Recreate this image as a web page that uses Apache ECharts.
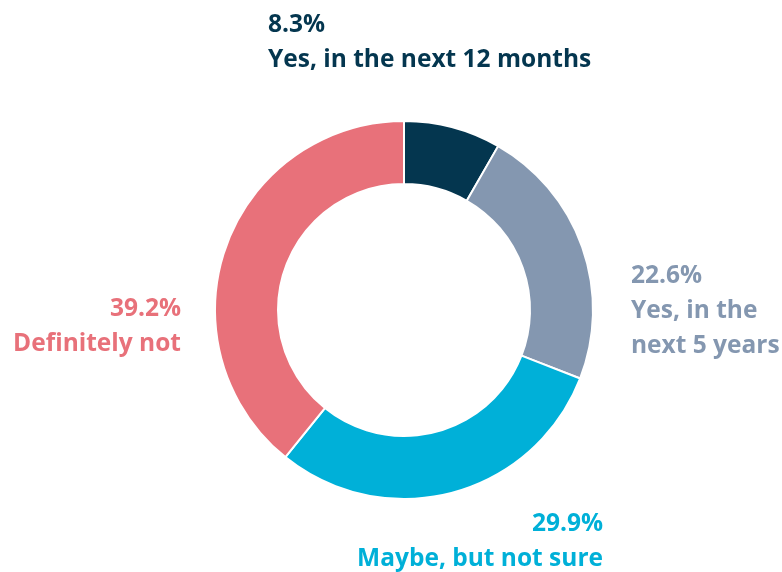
<!DOCTYPE html>
<html>
<head>
    <meta charset="utf-8">
    <title>Donut</title>
    <script src="https://cdn.jsdelivr.net/npm/echarts@6/dist/echarts.min.js"></script>
</head>
<body style="margin:0;background:#fff;">
<div id="main" style="width:782px;height:572px;"></div>
<script type="text/javascript">
    // answers, clockwise from 12 o'clock
    var categories = ['Yes, in the next 12 months', 'Yes, in the next 5 years', 'Maybe, but not sure', 'Definitely not'];
    var labelText = ['Yes, in the next 12 months', 'Yes, in the\nnext 5 years', 'Maybe, but not sure', 'Definitely not'];
    var values = [8.3, 22.6, 29.9, 39.2];
    var colors = ['#04364f', '#8497b0', '#00b0d8', '#e8717a'];

    // where each label block goes (x, y = vertical middle), and its alignment
    var labelSpots = [
        {x: 268, y: 43, align: 'left'},
        {x: 631, y: 311, align: 'left'},
        {x: 603, y: 542, align: 'right'},
        {x: 181, y: 327, align: 'right'}
    ];

    var myChart = echarts.init(document.getElementById('main'));

    var seriesData = [];
    for (var i = 0; i < values.length; i++) {
        seriesData.push({
            name: categories[i],
            value: values[i],
            itemStyle: {color: colors[i]},
            label: {color: colors[i]}
        });
    }

    var option = {
        animation: false,
        series: [{
            type: 'pie',
            center: [404, 310],
            radius: [126, 189],
            startAngle: 90,
            clockwise: true,
            itemStyle: {borderColor: '#fff', borderWidth: 2},
            label: {
                show: true,
                position: 'outside',
                overflow: 'none',
                fontFamily: 'Open Sans',
                fontWeight: 'bold',
                fontSize: 24.5,
                lineHeight: 35,
                formatter: function (p) {
                    return p.value.toFixed(1) + '%\n' + labelText[p.dataIndex];
                }
            },
            labelLine: {show: false},
            labelLayout: function (p) {
                var s = labelSpots[p.dataIndex];
                return {x: s.x, y: s.y, align: s.align, verticalAlign: 'middle'};
            },
            emphasis: {disabled: true},
            data: seriesData
        }]
    };

    myChart.setOption(option);
</script>
</body>
</html>
